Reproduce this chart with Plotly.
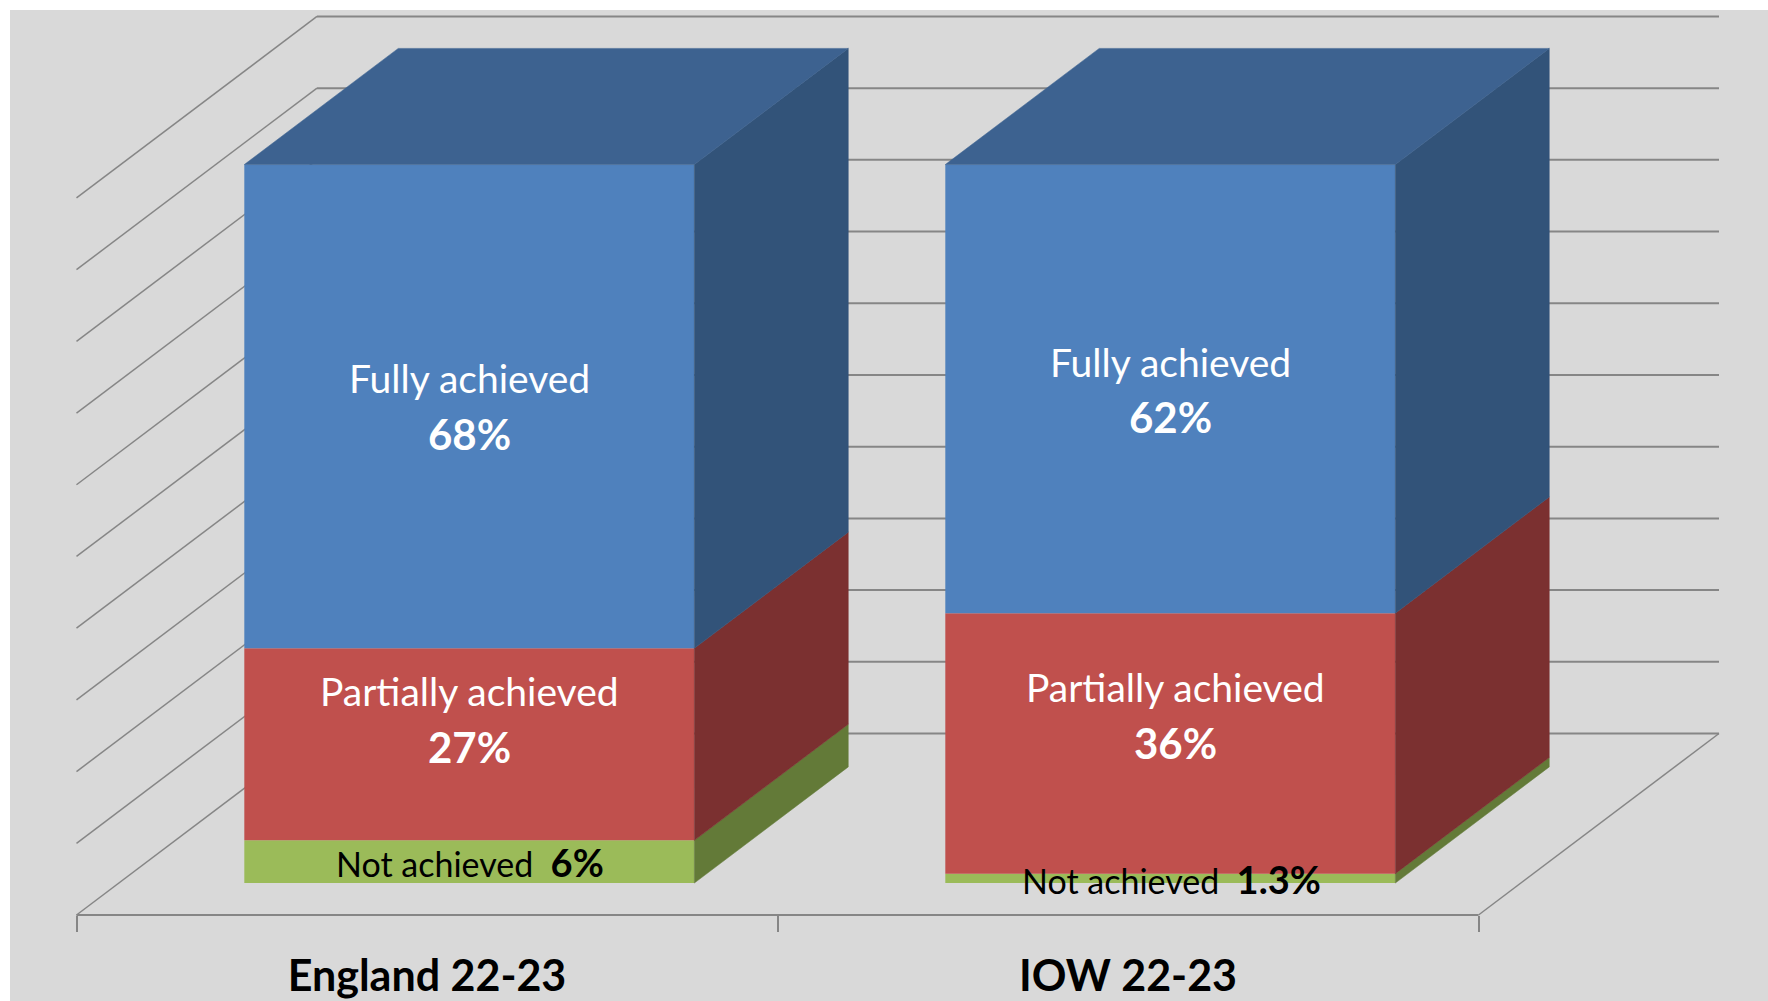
import plotly.graph_objects as go

# ---- data -------------------------------------------------------------
categories = ["England 22-23", "IOW 22-23"]
series_names = ["Not achieved", "Partially achieved", "Fully achieved"]
not_achieved = [6, 1.3]
partially_achieved = [27, 36]
fully_achieved = [68, 62]
value_labels_not = ["6%", "1.3%"]
value_labels_partial = ["27%", "36%"]
value_labels_full = ["68%", "62%"]
percent_ticks = [0, 10, 20, 30, 40, 50, 60, 70, 80, 90, 100]

# ---- page and projection ----------------------------------------------
W, H = 1768, 1001
ML, MT = 10, 10
FLOOR_LEFT, CAT_PX = 76.5, 701.0
FLOOR_Y, PCT_PX = 915.0, 7.185
DX = 240.5 / CAT_PX      # depth vector, in axis units
DY = 181.5 / PCT_PX
WALL_SCALE = 0.998       # the wall scale is a hair shorter than the bars
GAP = 0.179
BAR_W = 0.642
D0, D1 = 0.176, 0.816

FRONT = ["#4F81BD", "#C0504D", "#9BBB59"]
SIDE = ["#325379", "#7B3030", "#637A38"]
TOP = "#3D6290"
GRID = "#868686"
BG = "#D9D9D9"
FONT = "Lato"


def proj(x, y, d):
    return x + d * DX, y + d * DY


def line_shape(p, q, w=1.4):
    return dict(type="line", xref="x", yref="y", layer="below",
                x0=p[0], y0=p[1], x1=q[0], y1=q[1],
                line=dict(color=GRID, width=w))


shapes = []
for t in percent_ticks:
    tw = t * WALL_SCALE
    shapes.append(line_shape(proj(0, tw, 0), proj(0, tw, 1), 1.5))
    shapes.append(line_shape(proj(0, tw, 1), proj(2, tw, 1), 2))
shapes.append(line_shape(proj(2, 0, 0), proj(2, 0, 1), 1.5))
shapes.append(line_shape(proj(0, 0, 0), proj(2, 0, 0), 2))

fig = go.Figure()

# normalise the stack to 100 %, as the 100 % stacked chart does
totals = [a + b + c for a, b, c in zip(not_achieved, partially_achieved, fully_achieved)]
stack = [
    [v / t * 100 for v, t in zip(s, totals)]
    for s in (not_achieved, partially_achieved, fully_achieved)
]
colour_index = [2, 1, 0]


def poly(pts, colour, name):
    fig.add_trace(go.Scatter(
        x=[p[0] for p in pts] + [pts[0][0]],
        y=[p[1] for p in pts] + [pts[0][1]],
        mode="lines", fill="toself", fillcolor=colour,
        line=dict(color=colour, width=0.5),
        hoverinfo="skip", showlegend=False, name=name))


bases = [0.0, 0.0]
for k, (name, vals) in enumerate(zip(series_names, stack)):
    ci = colour_index[k]
    fig.add_trace(go.Bar(
        x=[proj(i + GAP + BAR_W / 2, 0, D0)[0] for i in range(2)],
        y=vals,
        base=[b + D0 * DY for b in bases],
        width=BAR_W,
        marker=dict(color=FRONT[ci], line=dict(width=0)),
        name=name, showlegend=False, hoverinfo="skip"))
    for i in range(2):
        xr = i + GAP + BAR_W
        lo, hi = bases[i], bases[i] + vals[i]
        poly([proj(xr, lo, D0), proj(xr, hi, D0), proj(xr, hi, D1), proj(xr, lo, D1)],
             SIDE[ci], name + " side")
        bases[i] = hi

for i in range(2):
    xl, xr = i + GAP, i + GAP + BAR_W
    poly([proj(xl, 100, D0), proj(xr, 100, D0), proj(xr, 100, D1), proj(xl, 100, D1)],
         TOP, "top")

# ---- labels -----------------------------------------------------------
# positions of hand-placed labels: (x offset in px from bar centre, y in % on the bar's front face)
SZ_NAME, SZ_VAL = 39, 42
SZ_NOT, SZ_NOTV = 34, 38


def label(i, dx_px, y_pct, text, colour, size=SZ_NAME):
    cx = proj(i + GAP + BAR_W / 2, 0, D0)[0] + dx_px / CAT_PX
    fig.add_annotation(x=cx, y=y_pct + D0 * DY, xref="x", yref="y", text=text,
                       showarrow=False, xanchor="center", yanchor="middle",
                       font=dict(family=FONT, color=colour, size=size))


def bold(v, sz):
    return f'<span style="font-size:{sz}px"><b>{v}</b></span>'


full_y = [(70.35, 62.5), (72.5, 64.9)]
part_y = [(26.75, 18.9), (27.3, 19.5)]
part_dx = [0, 5]
not_y = [2.9, 0.6]
for i in range(2):
    label(i, 0, full_y[i][0], series_names[2], "white")
    label(i, 0, full_y[i][1], bold(value_labels_full[i], SZ_VAL), "white")
    label(i, part_dx[i], part_y[i][0], series_names[1], "white")
    label(i, part_dx[i], part_y[i][1], bold(value_labels_partial[i], SZ_VAL), "white")
    label(i, 1, not_y[i],
          f'<span style="font-size:{SZ_NOT}px">{series_names[0]}&nbsp;&nbsp;</span>'
          + bold(value_labels_not[i], SZ_NOTV), "black", SZ_NOT)

fig.update_layout(
    width=W, height=H,
    margin=dict(l=ML, r=0, t=MT, b=0, pad=0),
    paper_bgcolor="white", plot_bgcolor=BG,
    barmode="overlay", showlegend=False, shapes=shapes,
    font=dict(family=FONT),
    xaxis=dict(
        range=[(ML - FLOOR_LEFT) / CAT_PX, (W - FLOOR_LEFT) / CAT_PX],
        tickmode="array", tickvals=[0.5, 1.5], ticktext=categories,
        tickfont=dict(family=FONT, size=43, color="black", weight="bold"),
        ticks="", showgrid=False, zeroline=False, showline=False,
        anchor="free", position=(H - FLOOR_Y) / (H - MT),
        ticklabelstandoff=32, automargin=False,
        minor=dict(tickmode="array", tickvals=[0, 1, 2], ticks="outside",
                   ticklen=16, tickwidth=1.5, tickcolor=GRID, showgrid=False),
    ),
    yaxis=dict(
        range=[(FLOOR_Y - H) / PCT_PX, (FLOOR_Y - MT) / PCT_PX],
        visible=False, showgrid=False, zeroline=False, automargin=False,
    ),
)

fig.write_html("out.html", config={"displayModeBar": False},
               post_script="document.body.style.margin='0';document.body.style.overflow='hidden';")
